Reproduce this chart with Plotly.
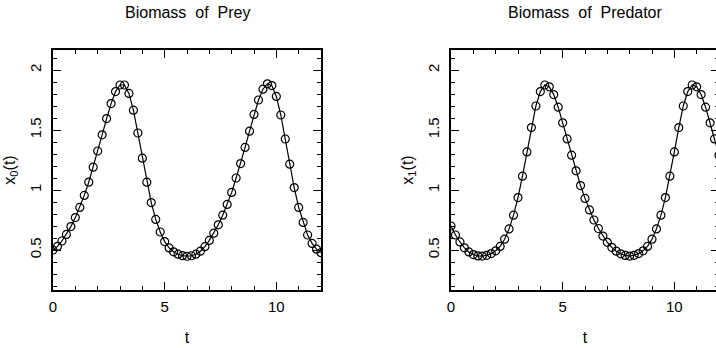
import plotly.graph_objects as go
from plotly.subplots import make_subplots

t = [round(0.2 * i, 1) for i in range(61)]

prey = [0.50, 0.53, 0.575, 0.63, 0.695, 0.77, 0.855, 0.955, 1.065, 1.19,
        1.325, 1.46, 1.595, 1.72, 1.82, 1.875, 1.875, 1.805, 1.665, 1.475,
        1.265, 1.065, 0.895, 0.755, 0.65, 0.57, 0.517, 0.485, 0.465, 0.453,
        0.448, 0.452, 0.465, 0.49, 0.528, 0.58, 0.64, 0.71, 0.79, 0.88,
        0.98, 1.10, 1.22, 1.355, 1.49, 1.63, 1.75, 1.84, 1.885, 1.87,
        1.78, 1.625, 1.425, 1.215, 1.02, 0.855, 0.73, 0.625, 0.555, 0.507,
        0.478]

predator = [0.70, 0.625, 0.567, 0.518, 0.484, 0.462, 0.451, 0.449, 0.456, 0.47,
            0.493, 0.53, 0.59, 0.676, 0.79, 0.937, 1.115, 1.317, 1.52, 1.70,
            1.82, 1.875, 1.86, 1.795, 1.69, 1.56, 1.426, 1.29, 1.16, 1.037,
            0.93, 0.834, 0.75, 0.679, 0.616, 0.564, 0.522, 0.49, 0.468, 0.455,
            0.449, 0.456, 0.47, 0.493, 0.53, 0.59, 0.676, 0.79, 0.937, 1.115,
            1.317, 1.52, 1.70, 1.82, 1.875, 1.86, 1.795, 1.69, 1.56, 1.426,
            1.29]

titles = ["Biomass\u00a0\u00a0of\u00a0\u00a0Prey", "Biomass\u00a0\u00a0of\u00a0\u00a0Predator"]
ytitles = ["x<sub>0</sub>(t)", "x<sub>1</sub>(t)"]
xtitle = "t"
xticks = [0, 5, 10]
yticks = [0.5, 1, 1.5, 2]
ytick_text = ["0.5", "1", "1.5", "2"]

W, H = 724, 348
ML, MR, MT, MB = 53, 5, 50, 58
pw = W - ML - MR
fig = make_subplots(rows=1, cols=2, horizontal_spacing=0.0)

FONT = "Liberation Sans"
for col, series in ((1, prey), (2, predator)):
    fig.add_trace(go.Scatter(
        x=t, y=series, mode="lines+markers",
        line=dict(color="black", width=1.2),
        marker=dict(symbol="circle-open", size=8, color="black", line=dict(width=1.2)),
        showlegend=False, cliponaxis=True), row=1, col=col)

axis_common = dict(showgrid=False, zeroline=False, showline=True, linecolor="black",
                   linewidth=1.5, mirror="ticks", ticks="inside", ticklen=8,
                   tickcolor="black", tickwidth=1,
                   tickfont=dict(family=FONT, size=15, color="black"))

for col in (1, 2):
    fig.update_xaxes(range=[0, 12], tickvals=xticks, ticktext=[str(v) for v in xticks],
                     minor=dict(dtick=1, tick0=0, ticks="inside", ticklen=4, tickcolor="black"),
                     title=dict(text=xtitle, font=dict(family=FONT, size=16, color="black"), standoff=18),
                     ticklabelstandoff=2,
                     **axis_common, row=1, col=col)
    fig.update_yaxes(range=[1/6, 13/6], tickvals=yticks, ticktext=ytick_text, tickangle=-90,
                     minor=dict(dtick=0.1, tick0=0, ticks="inside", ticklen=4, tickcolor="black"),
                     title=dict(text=ytitles[col - 1], font=dict(family=FONT, size=16, color="black"), standoff=8),
                     ticklabelstandoff=4,
                     **axis_common, row=1, col=col)

fig.update_xaxes(domain=[0, 268 / pw], row=1, col=1)
fig.update_xaxes(domain=[398 / pw, 1], row=1, col=2)
fig.update_yaxes(domain=[0, 1])

for i, title in enumerate(titles):
    fig.add_annotation(text=title, xref=f"x{'' if i == 0 else 2} domain", x=0.5,
                       yref="paper", y=1 + (MT - 13) / (H - MT - MB), yanchor="middle",
                       showarrow=False, font=dict(family=FONT, size=16, color="black"))

fig.update_layout(width=W, height=H, margin=dict(l=ML, r=MR, t=MT, b=MB, autoexpand=False),
                  paper_bgcolor="white", plot_bgcolor="white")

fig.write_html("out.html",
               post_script="document.documentElement.style.overflow='hidden';document.body.style.overflow='hidden';")
